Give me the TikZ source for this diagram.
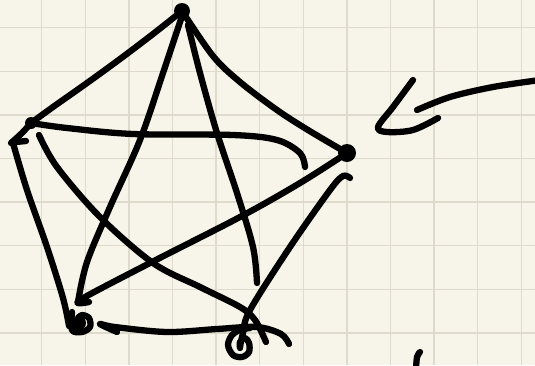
\documentclass[tikz,border=0pt]{standalone}
\usetikzlibrary{positioning}
\definecolor{paper}{HTML}{F7F5E9}
\definecolor{gridln}{HTML}{DEDBCC}

\begin{document}
\begin{tikzpicture}[
        x=1pt, y=-1pt,
        ink/.style={line width=6.3pt, line cap=round, line join=round},
        stroke/.style={ink, smooth, tension=0.55},
        dot/.style={circle, fill, inner sep=0pt, minimum size=#1},
        sheet/.style={draw=gridln, line width=1.4pt}
    ]

    % squared paper
    \fill[paper] (0,0) rectangle (535,365);
    \useasboundingbox (0,0) rectangle (535,365);
    \foreach \i in {0,...,11}
        \draw[sheet] (41.7+43.6*\i,0) -- (41.7+43.6*\i,365);
    \foreach \j in {0,...,7}
        \draw[sheet] (0,27.7+43.6*\j) -- (535,27.7+43.6*\j);

    % the five vertices
    \node[dot=16pt] (top) at (182,11) {};
    \node[dot=12pt] (left) at (31,123) {};
    \node[dot=18pt] (right) at (347,153) {};
    \node[dot=14pt] (low) at (79,323) {};
    \coordinate (loop) at (240,345);

    % outer edges
    \draw[stroke] plot coordinates {(top.center) (153,34) (120,59) (87,83) (53,107) (left.center)};
    \draw[stroke] plot coordinates {(top.center) (213,56) (240,82) (277,110) (308,130) (right.center)};
    \draw[stroke] plot coordinates {(left.center) (22,133) (11,143)};
    \draw[stroke] plot coordinates {(16,142) (26,141)};
    \draw[stroke] plot coordinates {(13,143) (27,190) (47,247) (63,298) (69,326)};
    \draw[stroke] plot coordinates {(117,332) (100,324) (115,327) (167,332) (217,329) (257,327) (281,334) (289,344)};
    \draw[stroke] plot coordinates {(350,178) (343,176) (330,190) (290,247) (250,310) (243,333) (240,347)};

    % inner star
    \draw[stroke] plot coordinates {(182,16) (163,73) (140,140) (110,207) (87,262) (78,302)};
    \draw[stroke] plot coordinates {(188,25) (200,73) (217,133) (237,193) (253,247) (257,283)};
    \draw[stroke] plot coordinates {(left.center) (67,128) (133,134) (233,135) (277,140) (300,153) (305,167)};
    \draw[stroke] plot coordinates {(39,135) (57,167) (100,217) (153,263) (200,287) (240,307) (255,320) (266,342)};
    \draw[stroke] plot coordinates {(right.center) (300,183) (240,217) (150,263) (80,300) (89,302)};

    % scribbles at the bottom vertices
    \draw[stroke] plot coordinates {(72,312) (72,330) (82,332) (90,327) (89,318) (82,315) (78,318)};
    \draw[stroke] plot coordinates {(250,328) (240,330) (232,335) (228,345) (233,355) (242,357) (249,352) (249,343) (245,338) (240,342) (240,348)};

    % pointer from the right
    \coordinate (tail) at (540,80);
    \draw[stroke] plot coordinates {(tail) (493,87) (450,97) (417,110)};
    \draw[stroke] plot coordinates {(413,80) (393,107) (378,127) (387,132) (413,130) (438,118)};
    \draw[stroke] plot coordinates {(420,352) (417,357) (416,370)};

\end{tikzpicture}
\end{document}
